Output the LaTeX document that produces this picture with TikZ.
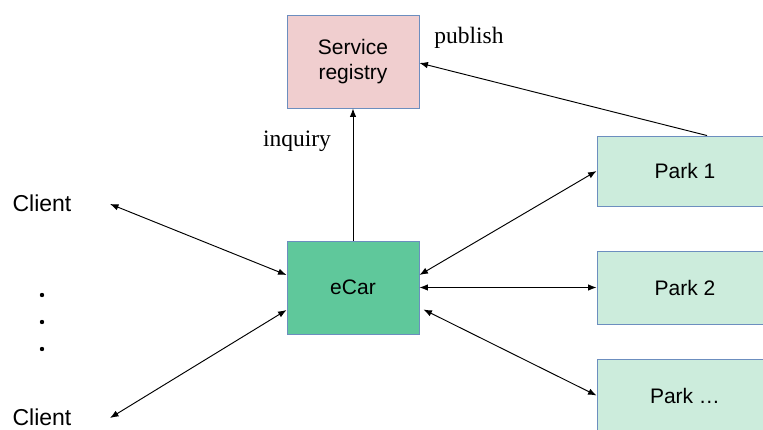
\documentclass[tikz,border=0pt]{standalone}
\usepackage{fontspec}
\setmainfont{Liberation Sans}
\newfontfamily\serifx{Liberation Serif}
\usetikzlibrary{arrows.meta}
\definecolor{bordc}{RGB}{108,142,191}
\definecolor{pinkf}{RGB}{240,206,207}
\definecolor{ecarf}{RGB}{95,200,155}
\definecolor{parkf}{RGB}{204,236,220}
\tikzset{
  box/.style={draw=bordc, line width=0.9pt, inner sep=0pt, align=center,
    font=\fontsize{21}{25}\selectfont},
  lbl/.style={inner sep=0pt, anchor=base},
  conn/.style={line width=0.95pt, {Latex[length=8.5pt,width=6.5pt]}-{Latex[length=8.5pt,width=6.5pt]}},
  oneway/.style={line width=0.95pt, -{Latex[length=8.5pt,width=6.5pt]}},
}
\begin{document}
\begin{tikzpicture}[x=1pt,y=-1pt]
\useasboundingbox (0,0) rectangle (763,430);
\clip (0,0) rectangle (763,430);
\node[box, fill=pinkf, minimum width=132pt, minimum height=93pt] (sr) at (353,61.5) {Service\\registry};
\node[box, fill=ecarf, minimum width=132pt, minimum height=93pt] (ecar) at (353,287.5) {eCar};
\node[box, fill=parkf, minimum width=176pt, minimum height=70pt] (p1) at (685,171) {Park 1};
\node[box, fill=parkf, minimum width=176pt, minimum height=73pt] (p2) at (685,287.5) {Park 2};
\node[box, fill=parkf, minimum width=176pt, minimum height=73pt] (p3) at (685,395.5) {Park \ldots};
\node[lbl, font=\fontsize{23}{27}\selectfont] (c1) at (42,212) {Client};
\node[lbl, font=\fontsize{23}{27}\selectfont] (c2) at (42,425) {Client};
\node[lbl, font=\serifx\fontsize{23.5}{27}\selectfont] (pub) at (469,44) {publish};
\node[lbl, font=\serifx\fontsize{23.5}{27}\selectfont] (inq) at (297,147) {inquiry};
\foreach \yy/\nm in {295/d1,322/d2,349/d3}
  \fill (42,\yy) circle (2.2pt) coordinate (\nm);
\coordinate (c1e) at (110,204);
\coordinate (c2e) at (110,418);
\draw[conn] (c1e) -- ([yshift=12.5pt]ecar.west);
\draw[conn] (c2e) -- ([yshift=-22.5pt]ecar.west);
\draw[conn] ([yshift=12.5pt]ecar.east) -- (p1.west);
\draw[conn] (ecar.east) -- (p2.west);
\draw[conn] ([xshift=4pt,yshift=-22pt]ecar.east) -- (p3.west);
\draw[oneway] (ecar.north) -- (sr.south);
\draw[oneway] ([xshift=22pt]p1.north) -- ([yshift=-1.5pt]sr.east);
\end{tikzpicture}
\end{document}
